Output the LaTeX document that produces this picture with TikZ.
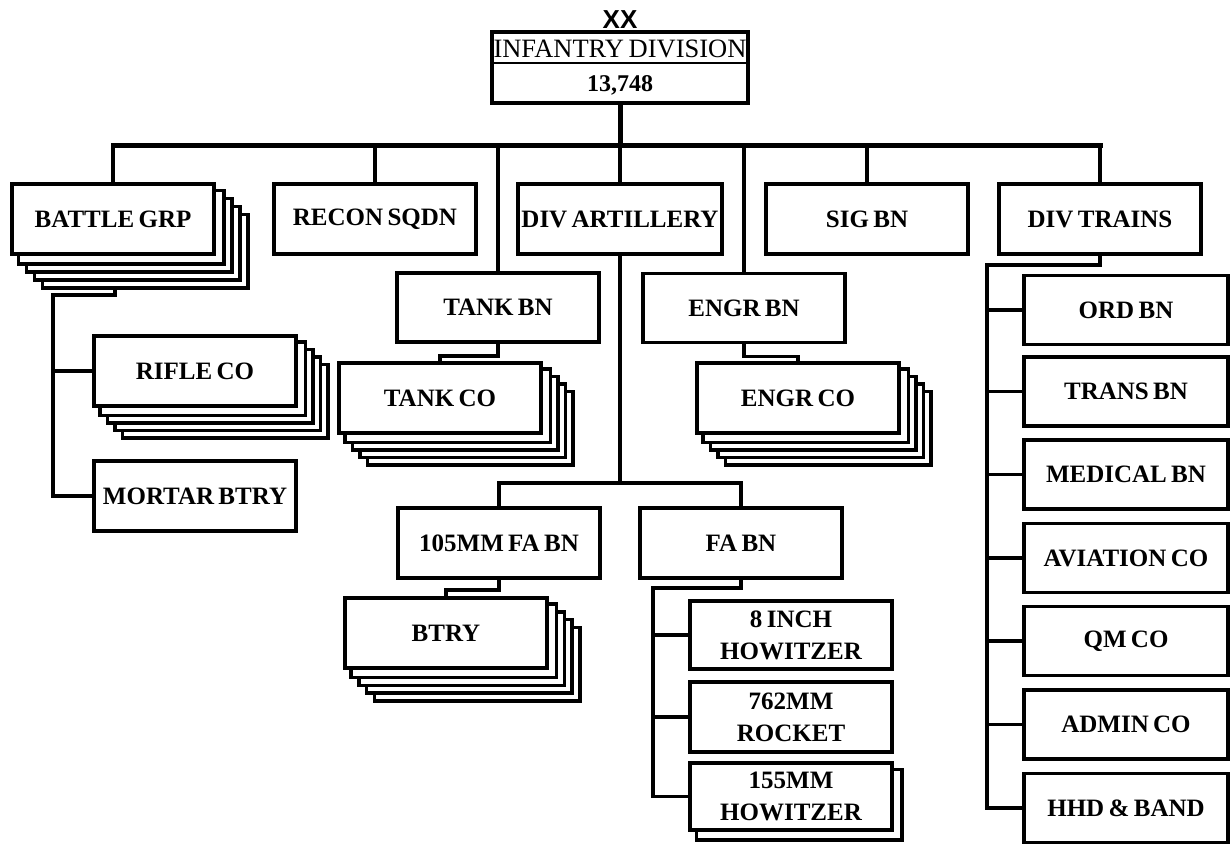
\documentclass[tikz,border=0pt]{standalone}
\usepackage{fontspec}
\setmainfont{Liberation Serif}[WordSpace=0.7]
\newfontfamily\xxfont{Liberation Sans}
\usetikzlibrary{calc,backgrounds}
\newcommand\backstack[3]{%
  \begin{pgfonlayer}{background}
  \foreach \k in {#2}{%
    \draw[line width=3.5pt,fill=white] ($(#1.north west)+(\k*#3,\k*#3)$) rectangle ($(#1.south east)+(\k*#3,\k*#3)$);}
  \end{pgfonlayer}}
\begin{document}
\begin{tikzpicture}[x=1pt,y=-1pt,
  box/.style={draw,line width=3.5pt,fill=white,minimum width=202pt,minimum height=70pt,inner sep=0pt,
    font=\bfseries\fontsize{25}{25}\selectfont,align=center},
  sbox/.style={box,minimum height=69pt},
  tbox/.style={box,font=\bfseries\fontsize{25}{32}\selectfont},
  conn/.style={line width=3.5pt},
  busline/.style={line width=5pt},
]
\begin{pgfonlayer}{background}
\fill[white] (0,0) rectangle (1231,843);
\end{pgfonlayer}
\useasboundingbox (0,0) rectangle (1231,843);

% top
\node[font=\xxfont\bfseries\fontsize{26}{26}\selectfont,anchor=base,inner sep=0pt] (xx) at (620,29) {XX};
\node[draw,line width=3.5pt,minimum width=256pt,minimum height=71pt,inner sep=0pt] (div) at (620,67.5) {};
\draw[line width=2.5pt] ($(div.north west)+(0,33)$) -- ($(div.north east)+(0,33)$);
\node[font=\fontsize{26.5}{26}\selectfont,inner sep=0pt] (divname) at (620,48.5) {INFANTRY DIVISION};
\node[font=\bfseries\fontsize{24}{24}\selectfont,inner sep=0pt] (divnum) at (620,85) {13,748};

% row 1
\node[box] (bg) at (113,219) {BATTLE GRP};
\node[box] (recon) at (375,219) {RECON SQDN};
\node[box,minimum width=204pt] (art) at (620,219) {DIV ARTILLERY};
\node[box] (sig) at (867,219) {SIG BN};
\node[box] (trains) at (1100,219) {DIV TRAINS};
\backstack{bg}{4,3,2,1}{8}

% battle group children
\node[box] (rifle) at (195,371) {RIFLE CO};
\backstack{rifle}{4,3,2,1}{7.6}
\node[box] (mortar) at (195,496) {MORTAR BTRY};

% tank / engr
\node[sbox] (tankbn) at (498,307.5) {TANK BN};
\node[sbox] (engrbn) at (744,308) {ENGR BN};
\node[box] (tankco) at (440,398) {TANK CO};
\backstack{tankco}{4,3,2,1}{7.6}
\node[box] (engrco) at (798,398) {ENGR CO};
\backstack{engrco}{4,3,2,1}{7.6}

% artillery
\node[box] (fa105) at (499,543) {105MM FA BN};
\node[box] (fabn) at (741,543) {FA BN};
\node[box] (btry) at (446,633) {BTRY};
\backstack{btry}{4,3,2,1}{7.8}
\node[tbox,minimum height=68pt] (inch8) at (791,635) {8 INCH\\HOWITZER};
\node[tbox,minimum height=70pt] (rocket) at (791,717) {762MM\\ROCKET};
\node[tbox,minimum height=67pt] (how155) at (791,796.5) {155MM\\HOWITZER};
\backstack{how155}{1}{8}

% div trains children
\node[sbox,minimum width=204pt] (ord) at (1126,310) {ORD BN};
\node[sbox,minimum width=204pt] (trans) at (1126,391.5) {TRANS BN};
\node[sbox,minimum width=204pt] (med) at (1126,474.5) {MEDICAL BN};
\node[sbox,minimum width=204pt] (avn) at (1126,558) {AVIATION CO};
\node[sbox,minimum width=204pt] (qm) at (1126,641) {QM CO};
\node[sbox,minimum width=204pt] (adm) at (1126,724.5) {ADMIN CO};
\node[sbox,minimum width=204pt] (hhd) at (1126,808) {HHD \& BAND};

% main bus
\coordinate (busc) at (620,145);
\draw[busline] (div.south) -- (busc);
\draw[busline,line cap=rect] (bg.north |- busc) -- (trains.north |- busc);
\foreach \n in {bg,recon,art,sig,trains,tankbn,engrbn}
  \draw[conn] (\n.north |- busc) -- (\n.north);

% battle group connectors
\coordinate (bgb) at ($(bg.south)+(2,32)$);
\coordinate (bgtrunk) at (53,295);
\draw[conn,line join=miter] (bgb) |- (bgtrunk) |- (mortar.west);
\draw[conn] (bgtrunk |- rifle.west) -- (rifle.west);

% tank / engr connectors
\draw[conn,line join=miter] (tankbn.south) -- ++(0,12) -| (tankco.north);
\draw[conn,line join=miter] (engrbn.south) -- ++(0,12) -| (engrco.north);

% artillery connectors
\coordinate (fajct) at (620,483);
\draw[conn] (art.south) -- (fajct);
\draw[conn,line join=miter] (fa105.north) |- (fajct) -| (fabn.north);
\draw[conn,line join=miter] (fa105.south) -- ++(0,10) -| (btry.north);
\coordinate (fatrunk) at (653,588);
\draw[conn,line join=miter] (fabn.south) |- (fatrunk) |- (how155.west);
\draw[conn] (fatrunk |- inch8.west) -- (inch8.west);
\draw[conn] (fatrunk |- rocket.west) -- (rocket.west);

% div trains connectors
\coordinate (trtrunk) at (987,265);
\draw[conn,line join=miter] (trains.south) |- (trtrunk) |- (hhd.west);
\foreach \n in {ord,trans,med,avn,qm,adm}
  \draw[conn] (trtrunk |- \n.west) -- (\n.west);
\end{tikzpicture}
\end{document}
